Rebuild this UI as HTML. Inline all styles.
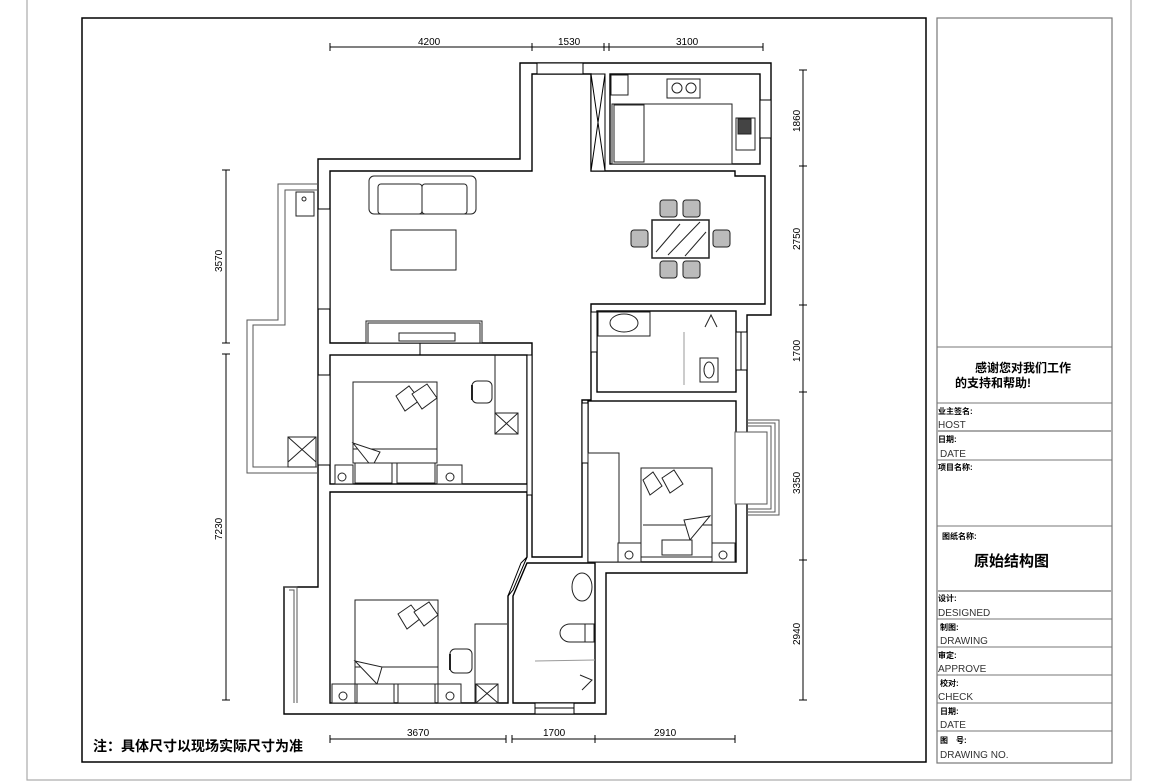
<!DOCTYPE html>
<html><head><meta charset="utf-8"><style>
html,body{margin:0;padding:0;background:#fff;}
svg{display:block;}
text{font-family:"Liberation Sans","Noto Sans CJK SC",sans-serif;}
</style></head><body>
<svg width="1158" height="781" viewBox="0 0 1158 781" xmlns="http://www.w3.org/2000/svg">
<rect x="0" y="0" width="1158" height="781" fill="#fff"/>
<rect x="27" y="-1" width="1104" height="781" fill="none" stroke="#aaa" stroke-width="1.2"/>
<rect x="82" y="18" width="844" height="744" fill="none" stroke="#000" stroke-width="1.5"/>
<rect x="937" y="18" width="175" height="745" fill="none" stroke="#777" stroke-width="1.2"/>
<g stroke="#777" stroke-width="1">
<line x1="937" y1="347" x2="1112" y2="347"/>
<line x1="937" y1="403" x2="1112" y2="403"/>
<line x1="937" y1="431" x2="1112" y2="431" stroke-width="2" stroke="#aaa"/>
<line x1="937" y1="460" x2="1112" y2="460"/>
<line x1="937" y1="526" x2="1112" y2="526"/>
<line x1="937" y1="591" x2="1112" y2="591" stroke-width="2" stroke="#aaa"/>
<line x1="937" y1="619" x2="1112" y2="619"/>
<line x1="937" y1="647" x2="1112" y2="647"/>
<line x1="937" y1="675" x2="1112" y2="675"/>
<line x1="937" y1="703" x2="1112" y2="703"/>
<line x1="937" y1="731" x2="1112" y2="731"/>
</g>
<g>
<text x="975" y="372" font-size="12" font-weight="bold">感谢您对我们工作</text>
<text x="955" y="387" font-size="12" font-weight="bold">的支持和帮助!</text>
<text x="938" y="414" font-size="8" font-weight="bold">业主签名:</text>
<text x="938" y="428" font-size="10" fill="#333">HOST</text>
<text x="938" y="442" font-size="8" font-weight="bold">日期:</text>
<text x="940" y="457" font-size="10" fill="#333">DATE</text>
<text x="938" y="470" font-size="8" font-weight="bold">项目名称:</text>
<text x="942" y="539" font-size="8" font-weight="bold">图纸名称:</text>
<text x="974" y="566" font-size="15" font-weight="bold">原始结构图</text>
<text x="938" y="601" font-size="8" font-weight="bold">设计:</text>
<text x="938" y="616" font-size="10" fill="#333">DESIGNED</text>
<text x="940" y="630" font-size="8" font-weight="bold">制图:</text>
<text x="940" y="644" font-size="10" fill="#333">DRAWING</text>
<text x="938" y="658" font-size="8" font-weight="bold">审定:</text>
<text x="938" y="672" font-size="10" fill="#333">APPROVE</text>
<text x="940" y="686" font-size="8" font-weight="bold">校对:</text>
<text x="938" y="700" font-size="10" fill="#333">CHECK</text>
<text x="940" y="714" font-size="8" font-weight="bold">日期:</text>
<text x="940" y="728" font-size="10" fill="#333">DATE</text>
<text x="940" y="743" font-size="8" font-weight="bold">图　号:</text>
<text x="940" y="758" font-size="10" fill="#333">DRAWING NO.</text>
<text x="93" y="751" font-size="14" font-weight="bold">注：具体尺寸以现场实际尺寸为准</text>
</g>

<g stroke="#000" stroke-width="1" fill="none">
<line x1="330" y1="47" x2="763" y2="47"/>
<line x1="330" y1="43" x2="330" y2="51"/><line x1="532" y1="43" x2="532" y2="51"/><line x1="604" y1="43" x2="604" y2="51"/><line x1="609" y1="43" x2="609" y2="51"/><line x1="763" y1="43" x2="763" y2="51"/>
<line x1="330" y1="739" x2="506" y2="739"/><line x1="512" y1="739" x2="735" y2="739"/>
<line x1="330" y1="735" x2="330" y2="743"/><line x1="506" y1="735" x2="506" y2="743"/><line x1="512" y1="735" x2="512" y2="743"/><line x1="595" y1="735" x2="595" y2="743"/><line x1="735" y1="735" x2="735" y2="743"/>
<line x1="226" y1="170" x2="226" y2="343"/><line x1="226" y1="354" x2="226" y2="700"/>
<line x1="222" y1="170" x2="230" y2="170"/><line x1="222" y1="343" x2="230" y2="343"/><line x1="222" y1="354" x2="230" y2="354"/><line x1="222" y1="700" x2="230" y2="700"/>
<line x1="803" y1="70" x2="803" y2="700"/>
<line x1="799" y1="70" x2="807" y2="70"/><line x1="799" y1="166" x2="807" y2="166"/><line x1="799" y1="305" x2="807" y2="305"/><line x1="799" y1="392" x2="807" y2="392"/><line x1="799" y1="560" x2="807" y2="560"/><line x1="799" y1="700" x2="807" y2="700"/>
</g>
<g font-size="10" fill="#000">
<text x="418" y="45">4200</text><text x="558" y="45">1530</text><text x="676" y="45">3100</text>
<text x="407" y="736">3670</text><text x="543" y="736">1700</text><text x="654" y="736">2910</text>
<text transform="translate(222,272) rotate(-90)">3570</text>
<text transform="translate(222,540) rotate(-90)">7230</text>
<text transform="translate(800,132) rotate(-90)">1860</text>
<text transform="translate(800,250) rotate(-90)">2750</text>
<text transform="translate(800,362) rotate(-90)">1700</text>
<text transform="translate(800,494) rotate(-90)">3350</text>
<text transform="translate(800,645) rotate(-90)">2940</text>
</g>

<g stroke="#000" stroke-width="1.4" fill="#fff">
<polygon points="520,63 771,63 771,315 747,315 747,573 606,573 606,714 284,714 284,587 318,587 318,159 520,159"/>
<polygon points="330,171 532,171 532,74 591,74 591,171 735,171 735,176 765,176 765,304 591,304 591,400 582,400 582,557 532,557 532,343 330,343"/>
<rect x="610" y="74" width="150" height="90"/>
<rect x="597" y="311" width="139" height="81"/>
<rect x="330" y="355" width="197" height="129"/>
<polygon points="330,492 527,492 527,557 508,596 508,703 330,703"/>
<polygon points="513,703 513,596 527,563 595,563 595,703"/>
<rect x="588" y="401" width="148" height="161"/>
</g>
<g stroke="#555" stroke-width="1" fill="none">
<polyline points="318,184 278,184 278,320 247,320 247,473 318,473"/>
<polyline points="318,190 285,190 285,325 253,325 253,467 318,467"/>
<polyline points="284,587 297,587 297,703"/>
<polyline points="289,590 294,590 294,703"/>
<polyline points="747,420 779,420 779,515 747,515"/>
<polyline points="747,423 775,423 775,512 747,512"/>
<polyline points="747,426 771,426 771,509 747,509"/>
<rect x="735" y="432" width="32" height="72" fill="#fff"/>
</g>
<g stroke="#000" stroke-width="1" fill="#fff">
<rect x="537" y="63" width="46" height="11"/>
<rect x="591" y="74" width="14" height="97"/>
<line x1="591" y1="74" x2="605" y2="171"/><line x1="605" y1="74" x2="591" y2="171"/>
<rect x="760" y="100" width="11" height="38"/>
<rect x="535" y="703" width="39" height="11"/>
<line x1="535" y1="708" x2="574" y2="708"/>
<rect x="736" y="332" width="11" height="38"/>
<line x1="741" y1="332" x2="741" y2="370"/>
<rect x="318" y="209" width="12" height="100"/>
<rect x="318" y="375" width="12" height="90"/>
<rect x="582" y="403" width="6" height="60"/>
<line x1="420" y1="343" x2="420" y2="355"/>
<rect x="527" y="355" width="5" height="140"/>
<rect x="591" y="312" width="6" height="40"/>
</g>
<polygon points="527,557 513,590 508,596 521,563" fill="#fff" stroke="#000" stroke-width="1"/>

<g stroke="#222" stroke-width="1" fill="#fff">
<rect x="369" y="176" width="107" height="38" rx="5"/>
<rect x="378" y="184" width="44" height="30" rx="3"/><rect x="422" y="184" width="45" height="30" rx="3"/>
<rect x="391" y="230" width="65" height="40"/>
<rect x="366" y="321" width="116" height="22"/><rect x="368" y="323" width="112" height="20"/>
<rect x="399" y="333" width="56" height="8"/>
<rect x="652" y="220" width="57" height="38" stroke-width="1.5"/>
<line x1="656" y1="252" x2="680" y2="224"/><line x1="668" y1="255" x2="700" y2="222"/><line x1="685" y1="256" x2="706" y2="232"/>
</g>
<g stroke="#222" stroke-width="1" fill="#bbb">
<rect x="660" y="200" width="17" height="17" rx="3"/><rect x="683" y="200" width="17" height="17" rx="3"/>
<rect x="660" y="261" width="17" height="17" rx="3"/><rect x="683" y="261" width="17" height="17" rx="3"/>
<rect x="631" y="230" width="17" height="17" rx="3"/><rect x="713" y="230" width="17" height="17" rx="3"/>
</g>
<g stroke="#222" stroke-width="1" fill="#fff">
<rect x="667" y="79" width="33" height="19"/><circle cx="677" cy="88" r="5"/><circle cx="691" cy="88" r="5"/>
<rect x="611" y="75" width="17" height="20"/>
<rect x="612" y="104" width="120" height="60"/>
<rect x="614" y="105" width="30" height="57"/>
<rect x="736" y="118" width="19" height="32"/><rect x="738" y="119" width="13" height="15" fill="#444"/>
<rect x="296" y="192" width="18" height="24"/><circle cx="304" cy="199" r="2"/>
<rect x="288" y="437" width="28" height="30"/><line x1="288" y1="437" x2="316" y2="462"/><line x1="316" y1="437" x2="288" y2="462"/>
<rect x="598" y="312" width="52" height="24"/><ellipse cx="624" cy="323" rx="14" ry="9"/>
<line x1="684" y1="332" x2="684" y2="385" stroke="#999"/>
<rect x="700" y="358" width="18" height="24"/><ellipse cx="709" cy="370" rx="5" ry="8"/>
<polyline points="705,327 711,315 717,327" fill="none"/>
<rect x="353" y="382" width="84" height="81"/>
<line x1="353" y1="449" x2="437" y2="449"/>
<polygon points="353,443 380,452 372,467"/>
<rect x="355" y="463" width="37" height="20"/><rect x="397" y="463" width="38" height="20"/>
<rect x="335" y="465" width="18" height="19"/><circle cx="342" cy="477" r="4"/>
<rect x="437" y="465" width="25" height="19"/><circle cx="450" cy="477" r="4"/>
<polygon points="396,396 409,386 420,400 405,411"/><polygon points="412,394 427,384 437,398 422,409"/>
<rect x="472" y="381" width="20" height="22" rx="5"/><line x1="472" y1="385" x2="472" y2="400" stroke-width="2"/>
<line x1="495" y1="355" x2="495" y2="434"/>
<rect x="495" y="413" width="23" height="21"/><line x1="495" y1="413" x2="518" y2="434"/><line x1="518" y1="413" x2="495" y2="434"/>
<rect x="355" y="600" width="83" height="84"/>
<line x1="355" y1="667" x2="438" y2="667"/>
<polygon points="355,661 382,667 377,684"/>
<rect x="357" y="684" width="37" height="19"/><rect x="398" y="684" width="37" height="19"/>
<rect x="332" y="684" width="23" height="19"/><circle cx="343" cy="696" r="4"/>
<rect x="438" y="684" width="23" height="19"/><circle cx="450" cy="696" r="4"/>
<polygon points="398,614 411,605 421,618 407,629"/><polygon points="414,612 429,602 438,615 424,626"/>
<rect x="450" y="649" width="22" height="24" rx="5"/><line x1="450" y1="654" x2="450" y2="670" stroke-width="2"/>
<polyline points="475,703 475,624 507,624" fill="none"/>
<rect x="476" y="684" width="22" height="19"/><line x1="476" y1="684" x2="498" y2="703"/><line x1="498" y1="684" x2="476" y2="703"/>
<ellipse cx="582" cy="587" rx="10" ry="14"/>
<path d="M585,624 L570,624 A10,9 0 0 0 570,642 L585,642 Z"/><rect x="585" y="624" width="9" height="18"/>
<line x1="535" y1="661" x2="595" y2="660" stroke="#999"/>
<polyline points="580,675 592,680 582,690" fill="none"/>
<rect x="588" y="453" width="31" height="109"/>
<rect x="641" y="468" width="71" height="89"/>
<line x1="643" y1="525" x2="712" y2="525"/>
<polygon points="684,520 710,516 690,540"/>
<rect x="662" y="540" width="30" height="15"/>
<rect x="618" y="543" width="23" height="19"/><circle cx="629" cy="555" r="4"/>
<rect x="712" y="543" width="23" height="19"/><circle cx="723" cy="555" r="4"/>
<polygon points="643,480 653,472 662,486 650,495"/><polygon points="662,478 674,470 683,484 670,493"/>
</g>
</svg>
</body></html>
